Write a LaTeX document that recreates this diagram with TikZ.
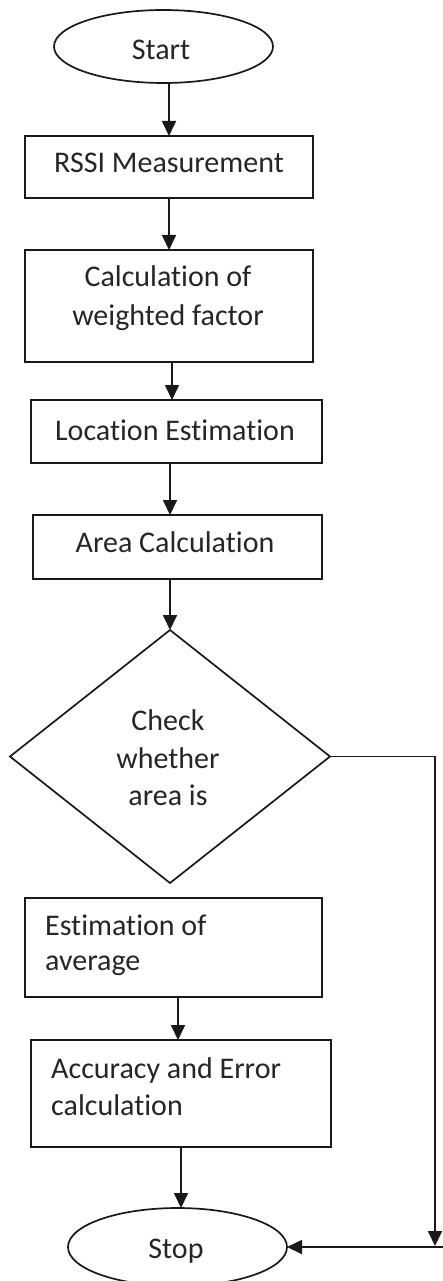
\documentclass[tikz,border=0pt]{standalone}
\usepackage{fontspec}
\setmainfont{Carlito}[Ligatures=NoCommon]
\usetikzlibrary{arrows.meta,shapes.geometric}
\begin{document}
\begin{tikzpicture}[x=1pt,y=-1pt,
  shp/.style={draw=black!90, line width=1.7pt, inner sep=0pt, outer sep=0pt},
  boxn/.style={shp, rectangle},
  ovaln/.style={shp, ellipse},
  decn/.style={shp, diamond},
  txt/.style={inner sep=0pt, font=\fontsize{30}{36}\selectfont, text=black!85},
  arr/.style={draw=black!90, line width=1.7pt, -{Triangle[length=15pt,width=14pt]}}
]
\useasboundingbox (0,0) rectangle (443,1281);
\fill[white] (0,0) rectangle (443,1281);

% shapes
\node[ovaln, minimum width=219pt, minimum height=73pt] (start) at (163.5,46.5) {};
\node[boxn, minimum width=288pt, minimum height=62pt] (rssi) at (169,167) {};
\node[boxn, minimum width=288pt, minimum height=112pt] (calc) at (169,306) {};
\node[boxn, minimum width=291pt, minimum height=63pt] (loc) at (176.5,431.5) {};
\node[boxn, minimum width=289pt, minimum height=64pt] (area) at (177.5,547) {};
\node[decn, minimum width=320pt, minimum height=253pt] (dec) at (170,756.5) {};
\node[boxn, minimum width=297pt, minimum height=99pt] (est) at (173.5,947.5) {};
\node[boxn, minimum width=300pt, minimum height=107pt] (acc) at (181,1093.5) {};
\node[ovaln, minimum width=219pt, minimum height=78pt] (stop) at (177.5,1247) {};

% texts
\node[txt, anchor=base] (tstart) at (161,60) {Start};
\node[txt, anchor=base] (trssi) at (169,173) {RSSI Measurement};
\node[txt, anchor=base] (tcalc1) at (168,286) {Calculation of};
\node[txt, anchor=base] (tcalc2) at (168,325) {weighted factor};
\node[txt, anchor=base] (tloc) at (175,440) {Location Estimation};
\node[txt, anchor=base] (tarea) at (175,552) {Area Calculation};
\node[txt, anchor=base] (tdec1) at (168,730) {Check};
\node[txt, anchor=base] (tdec2) at (168,768) {whether};
\node[txt, anchor=base] (tdec3) at (168,805) {area is};
\node[txt, anchor=base west] (test1) at (45,935) {Estimation of};
\node[txt, anchor=base west] (test2) at (45,970) {average};
\node[txt, anchor=base west] (tacc1) at (51,1078) {Accuracy and Error};
\node[txt, anchor=base west] (tacc2) at (51,1115) {calculation};
\node[txt, anchor=base] (tstop) at (176,1258) {Stop};

% connectors
\draw[arr] (start.south -| rssi.north) -- (rssi.north);
\draw[arr] (rssi.south) -- (calc.north);
\draw[arr] ([xshift=3pt]calc.south) -- ([xshift=3pt]calc.south |- loc.north);
\draw[arr] (loc.south -| dec.north) -- (area.north -| dec.north);
\draw[arr] (area.south -| dec.north) -- (dec.north);
\draw[arr] ([xshift=4.5pt]est.south) -- ([xshift=4.5pt]est.south |- acc.north);
\draw[arr] (acc.south) -- (acc.south |- stop.north);
\coordinate (c1) at (435,760);
\coordinate (c2) at (435,1246);
\coordinate (c3) at (443,1247);
\draw[arr] (dec.east) -- (dec.east -| c1) -- (c2);
\draw[arr] (c3) -- (stop.east);
\end{tikzpicture}
\end{document}
